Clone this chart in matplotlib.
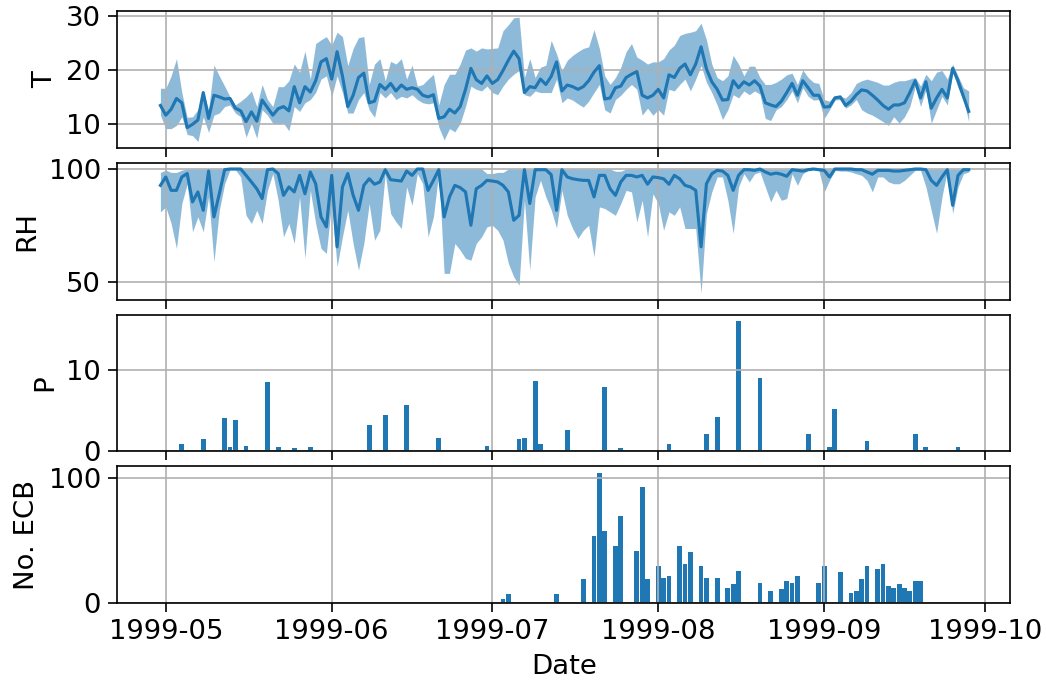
import numpy as np
import pandas as pd
import matplotlib
matplotlib.use("Agg")
import matplotlib.pyplot as plt
import matplotlib.dates as mdates
from matplotlib.ticker import MaxNLocator

plt.rcParams["font.size"] = 13.2
plt.rcParams["xtick.major.size"] = 4.2
plt.rcParams["ytick.major.size"] = 4.2

# daily series, 1999-04-30 .. 1999-09-28
start, end = "1999-04-30", "1999-09-28"

t_mean = [13.4, 11.6, 12.7, 14.7, 13.9, 9.3, 9.9, 10.7, 15.8, 11.0,
          15.3, 15.0, 14.6, 14.7, 12.9, 12.4, 10.4, 12.2, 10.5, 14.4,
          13.0, 11.6, 12.8, 13.2, 12.4, 16.9, 13.9, 16.9, 15.9, 18.0,
          21.5, 22.1, 18.3, 23.4, 18.9, 13.2, 15.3, 18.6, 19.4, 13.9,
          14.2, 17.3, 16.4, 17.5, 16.1, 17.2, 16.4, 16.7, 16.4, 15.3,
          15.0, 15.4, 11.0, 11.3, 12.7, 12.0, 13.2, 16.4, 20.3, 18.2,
          17.5, 18.9, 17.5, 18.2, 19.9, 21.8, 23.5, 22.1, 15.8, 16.9,
          16.7, 18.3, 17.3, 18.8, 21.5, 16.1, 17.2, 16.9, 16.4, 16.9,
          18.0, 19.6, 20.8, 14.6, 14.8, 16.7, 17.0, 18.6, 19.2, 19.7,
          15.3, 14.8, 15.3, 16.4, 14.8, 19.1, 18.6, 20.3, 21.1, 19.1,
          21.1, 24.3, 20.2, 17.8, 16.4, 14.4, 14.5, 18.0, 16.7, 17.8,
          17.2, 18.0, 17.0, 13.9, 13.5, 13.2, 14.2, 15.8, 17.5, 15.3,
          18.0, 16.7, 15.3, 15.3, 13.1, 13.2, 14.8, 15.0, 13.4, 14.2,
          15.4, 16.3, 16.1, 15.3, 14.4, 13.4, 12.7, 13.5, 13.5, 13.9,
          15.8, 18.0, 14.8, 17.8, 12.9, 14.8, 16.4, 14.8, 20.3, 18.0,
          15.1, 12.3]
t_max = [16.6, 16.6, 18.9, 22.1, 15.8, 11.2, 11.3, 12.6, 16.1, 12.6,
         20.9, 18.9, 17.0, 15.0, 13.5, 14.2, 15.0, 16.1, 13.2, 17.3,
         14.5, 13.2, 16.9, 16.9, 18.0, 21.1, 19.6, 23.5, 18.3, 24.9,
         25.6, 26.2, 24.6, 27.0, 26.2, 20.8, 24.0, 26.0, 26.2, 17.3,
         21.1, 22.1, 18.0, 21.6, 21.1, 22.1, 18.3, 20.9, 17.0, 17.3,
         18.3, 19.2, 13.5, 17.3, 19.2, 19.2, 21.1, 23.7, 24.1, 23.5,
         24.1, 23.9, 24.0, 24.1, 27.3, 28.4, 29.7, 29.8, 18.6, 22.1,
         18.6, 20.5, 20.9, 25.5, 23.0, 19.9, 21.8, 22.7, 23.4, 24.0,
         24.3, 27.5, 24.0, 18.9, 17.3, 18.6, 20.5, 23.4, 24.9, 22.4,
         21.8, 21.1, 21.5, 21.5, 22.1, 23.7, 24.6, 26.4, 26.8, 27.0,
         27.3, 28.7, 25.6, 21.1, 18.6, 18.0, 18.9, 22.7, 21.1, 18.9,
         20.7, 20.7, 18.6, 17.3, 17.3, 17.7, 18.3, 19.1, 19.4, 17.3,
         20.0, 18.6, 17.7, 17.5, 14.5, 14.2, 15.3, 15.1, 14.8, 15.8,
         17.5, 18.0, 18.3, 18.0, 17.7, 17.2, 17.2, 17.7, 18.0, 18.0,
         18.3, 18.6, 17.0, 19.2, 18.0, 19.6, 19.9, 18.3, 21.1, 18.9,
         16.7, 16.1]
t_min = [11.6, 9.1, 9.1, 9.7, 11.3, 8.0, 7.8, 6.7, 11.3, 8.4,
         11.6, 12.0, 13.2, 13.5, 12.0, 11.3, 7.5, 10.1, 7.3, 12.6,
         11.6, 10.1, 10.0, 10.1, 8.7, 13.2, 12.3, 13.9, 14.5, 15.8,
         18.3, 18.9, 15.1, 18.9, 15.8, 12.0, 12.0, 14.5, 15.8, 12.6,
         11.2, 15.8, 14.8, 15.8, 14.5, 15.1, 14.8, 15.4, 14.5, 13.9,
         13.7, 13.9, 9.4, 7.0, 9.1, 8.5, 10.1, 13.2, 17.0, 16.4,
         16.1, 17.0, 15.8, 15.4, 17.0, 18.3, 19.2, 19.9, 15.4, 15.1,
         16.1, 15.8, 15.8, 15.8, 18.3, 13.9, 14.8, 14.4, 13.7, 13.1,
         14.2, 15.8, 17.3, 12.6, 12.0, 14.5, 15.3, 16.4, 17.3, 16.4,
         11.6, 12.9, 11.6, 12.6, 11.6, 16.4, 16.1, 17.3, 18.3, 16.1,
         18.3, 20.8, 17.7, 15.8, 13.5, 10.8, 12.6, 15.4, 14.8, 16.1,
         15.4, 16.1, 15.5, 11.0, 10.6, 12.6, 13.2, 14.5, 16.1, 13.9,
         16.7, 15.1, 14.4, 14.5, 11.0, 12.6, 14.4, 14.5, 12.9, 13.5,
         14.5, 12.6, 12.0, 11.6, 11.0, 10.4, 9.7, 11.3, 10.1, 11.3,
         13.2, 16.9, 13.2, 16.4, 10.1, 12.6, 15.1, 13.5, 19.6, 16.7,
         14.5, 10.4]

rh_mean = [92.8, 96.5, 90.6, 90.6, 96.5, 98.0, 85.5, 89.9, 81.8, 99.1,
           78.9, 89.1, 99.7, 100.0, 100.0, 100.0, 97.2, 94.3, 91.3, 87.0,
           99.7, 100.0, 98.0, 88.4, 92.1, 89.9, 97.2, 89.1, 98.7, 93.5,
           78.9, 74.5, 97.2, 65.7, 92.1, 98.0, 88.5, 81.8, 92.8, 95.7,
           93.3, 94.3, 99.7, 95.3, 95.0, 94.7, 99.1, 97.2, 100.0, 100.0,
           90.6, 95.0, 99.7, 78.9, 87.7, 92.8, 91.8, 89.9, 75.2, 91.3,
           92.8, 95.0, 94.7, 94.3, 92.8, 89.9, 77.4, 79.6, 99.7, 84.8,
           99.7, 99.7, 99.7, 97.5, 81.8, 99.7, 96.5, 95.7, 95.3, 95.0,
           95.0, 87.7, 97.2, 97.2, 91.3, 88.4, 94.3, 97.2, 97.2, 96.5,
           97.2, 93.3, 96.5, 96.2, 95.7, 93.3, 97.2, 95.7, 92.8, 92.1,
           90.6, 65.7, 93.5, 97.9, 99.4, 99.1, 97.2, 90.6, 97.2, 99.7,
           99.7, 99.4, 100.0, 98.7, 97.7, 98.2, 97.7, 96.8, 99.7, 99.4,
           99.1, 99.7, 100.0, 99.7, 99.4, 96.5, 100.0, 100.0, 100.0, 100.0,
           99.7, 99.7, 98.7, 97.7, 99.4, 99.4, 99.4, 99.1, 99.1, 99.4,
           99.7, 100.0, 100.0, 99.7, 95.0, 92.8, 96.5, 99.7, 84.0, 97.2,
           99.7, 99.7]
rh_max = [98.5, 99.5, 98.5, 98.5, 99.5, 100.0, 100.0, 100.0, 100.0, 100.0,
          100.0, 100.0, 100.0, 100.0, 100.0, 100.0, 100.0, 100.0, 100.0, 100.0,
          100.0, 100.0, 100.0, 100.0, 100.0, 100.0, 100.0, 100.0, 100.0, 100.0,
          100.0, 100.0, 100.0, 100.0, 100.0, 100.0, 100.0, 100.0, 100.0, 100.0,
          100.0, 100.0, 100.0, 100.0, 100.0, 100.0, 100.0, 100.0, 100.0, 100.0,
          100.0, 100.0, 100.0, 100.0, 100.0, 100.0, 100.0, 100.0, 100.0, 100.0,
          100.0, 98.0, 98.0, 98.5, 98.5, 100.0, 100.0, 100.0, 100.0, 100.0,
          100.0, 100.0, 100.0, 100.0, 100.0, 100.0, 100.0, 100.0, 100.0, 100.0,
          100.0, 100.0, 100.0, 100.0, 100.0, 99.0, 99.0, 100.0, 100.0, 100.0,
          100.0, 100.0, 100.0, 100.0, 100.0, 100.0, 100.0, 100.0, 100.0, 100.0,
          100.0, 100.0, 100.0, 100.0, 100.0, 100.0, 100.0, 100.0, 100.0, 100.0,
          100.0, 100.0, 100.0, 100.0, 100.0, 100.0, 100.0, 100.0, 100.0, 100.0,
          100.0, 100.0, 100.0, 100.0, 100.0, 100.0, 100.0, 100.0, 100.0, 100.0,
          100.0, 100.0, 100.0, 100.0, 100.0, 100.0, 100.0, 100.0, 100.0, 100.0,
          100.0, 100.0, 100.0, 100.0, 100.0, 100.0, 100.0, 100.0, 100.0, 100.0,
          100.0, 100.0]
rh_min = [81.1, 83.3, 76.0, 65.0, 84.8, 93.5, 72.3, 78.9, 72.3, 87.7,
          59.1, 81.8, 93.5, 99.7, 99.7, 96.5, 79.6, 76.0, 81.8, 76.0,
          90.6, 98.0, 86.2, 70.1, 76.0, 67.2, 87.7, 60.6, 90.6, 76.0,
          65.0, 62.8, 85.5, 56.9, 70.1, 81.8, 67.2, 55.4, 67.2, 84.8,
          68.6, 73.0, 98.0, 80.4, 76.7, 73.8, 92.1, 84.0, 98.0, 93.5,
          70.1, 78.9, 98.7, 54.0, 54.0, 67.2, 64.2, 60.6, 59.8, 67.2,
          70.1, 74.5, 75.2, 73.0, 68.6, 58.4, 52.5, 48.8, 86.2, 55.4,
          87.7, 95.0, 87.7, 82.0, 74.0, 90.6, 79.6, 73.8, 69.4, 73.0,
          75.2, 61.3, 83.3, 82.6, 81.1, 79.6, 84.8, 90.6, 89.9, 76.7,
          86.2, 70.1, 89.1, 84.8, 73.0, 81.1, 79.6, 83.3, 73.8, 73.8,
          73.8, 45.2, 80.4, 89.9, 96.5, 96.5, 86.2, 71.6, 92.1, 97.9,
          94.3, 97.9, 98.7, 92.1, 85.5, 90.6, 86.2, 87.0, 97.9, 92.8,
          97.9, 99.4, 99.7, 99.4, 89.9, 95.0, 99.4, 99.1, 99.1, 98.7,
          97.9, 97.2, 95.0, 89.9, 96.5, 96.5, 94.3, 93.5, 93.5, 95.0,
          97.2, 99.4, 99.4, 92.1, 81.8, 71.6, 87.7, 99.4, 80.4, 92.1,
          97.9, 98.7]

# precipitation, rainy days only
p_dates = ["1999-05-04", "1999-05-08", "1999-05-12", "1999-05-13", "1999-05-14",
           "1999-05-15", "1999-05-16", "1999-05-20", "1999-05-21", "1999-05-22",
           "1999-05-25", "1999-05-28", "1999-06-08", "1999-06-10", "1999-06-11",
           "1999-06-12", "1999-06-15", "1999-06-21", "1999-06-30", "1999-07-06",
           "1999-07-07", "1999-07-09", "1999-07-10", "1999-07-15", "1999-07-22",
           "1999-07-25", "1999-08-03", "1999-08-10", "1999-08-12", "1999-08-16",
           "1999-08-20", "1999-08-28", "1999-08-29", "1999-09-02", "1999-09-03",
           "1999-09-09", "1999-09-18", "1999-09-20", "1999-09-26"]
p_vals = [0.9, 1.5, 4.1, 0.6, 3.9, 0.1, 0.7, 8.6, 0.1, 0.5,
          0.4, 0.5, 3.3, 0.2, 4.5, 0.1, 5.7, 1.7, 0.7, 1.5,
          1.7, 8.7, 0.9, 2.6, 8.0, 0.4, 0.9, 2.2, 4.2, 16.1,
          9.1, 0.1, 2.1, 0.6, 5.2, 1.3, 2.2, 0.6, 0.5]

# ECB counts
ecb_dates = ["1999-07-03", "1999-07-04", "1999-07-13", "1999-07-18", "1999-07-20",
             "1999-07-21", "1999-07-22", "1999-07-24", "1999-07-25", "1999-07-28",
             "1999-07-29", "1999-07-30", "1999-08-01", "1999-08-02", "1999-08-03",
             "1999-08-05", "1999-08-06", "1999-08-07", "1999-08-09", "1999-08-10",
             "1999-08-12", "1999-08-14", "1999-08-15", "1999-08-16", "1999-08-20",
             "1999-08-22", "1999-08-24", "1999-08-25", "1999-08-26", "1999-08-27",
             "1999-08-31", "1999-09-01", "1999-09-04", "1999-09-06", "1999-09-07",
             "1999-09-08", "1999-09-09", "1999-09-11", "1999-09-12", "1999-09-13",
             "1999-09-14", "1999-09-15", "1999-09-16", "1999-09-17", "1999-09-18",
             "1999-09-19"]
ecb_vals = [3, 7, 7, 19, 54, 104, 58, 46, 70, 42,
            93, 19, 30, 20, 22, 46, 31, 41, 30, 20,
            20, 12, 15, 26, 16, 10, 11, 18, 16, 22,
            16, 30, 25, 8, 10, 19, 30, 27, 31, 14,
            12, 15, 12, 10, 18, 18]

days = pd.date_range(start, end, freq="D")
p_days = pd.to_datetime(p_dates)
ecb_days = pd.to_datetime(ecb_dates)

fig, axes = plt.subplots(4, 1, sharex=True, figsize=(1046 / 150, 687 / 150), dpi=150)
plt.subplots_adjust(left=0.112, right=0.966, top=0.984, bottom=0.122, hspace=0.11)

ax = axes[0]
ax.fill_between(days, t_min, t_max, color="C0", alpha=0.5, linewidth=0)
ax.plot(days, t_mean, color="C0")
ax.set_ylabel("T")

ax = axes[1]
ax.fill_between(days, rh_min, rh_max, color="C0", alpha=0.5, linewidth=0)
ax.plot(days, rh_mean, color="C0")
ax.set_ylabel("RH")

ax = axes[2]
ax.bar(p_days, p_vals, width=0.9, color="C0")
ax.set_ylabel("P")

ax = axes[3]
ax.bar(ecb_days, ecb_vals, width=0.9, color="C0")
ax.set_ylabel("No. ECB")
ax.set_xlabel("Date")

for ax in axes:
    ax.grid(True)
    ax.yaxis.set_major_locator(MaxNLocator(nbins=2, steps=[1, 2, 2.5, 5, 10]))

axes[3].set_xlim(pd.Timestamp("1999-04-21 22:00"), pd.Timestamp("1999-10-05 19:00"))
axes[3].xaxis.set_major_locator(mdates.MonthLocator())
axes[3].xaxis.set_major_formatter(mdates.DateFormatter("%Y-%m"))

plt.savefig("out.png", dpi=150)
